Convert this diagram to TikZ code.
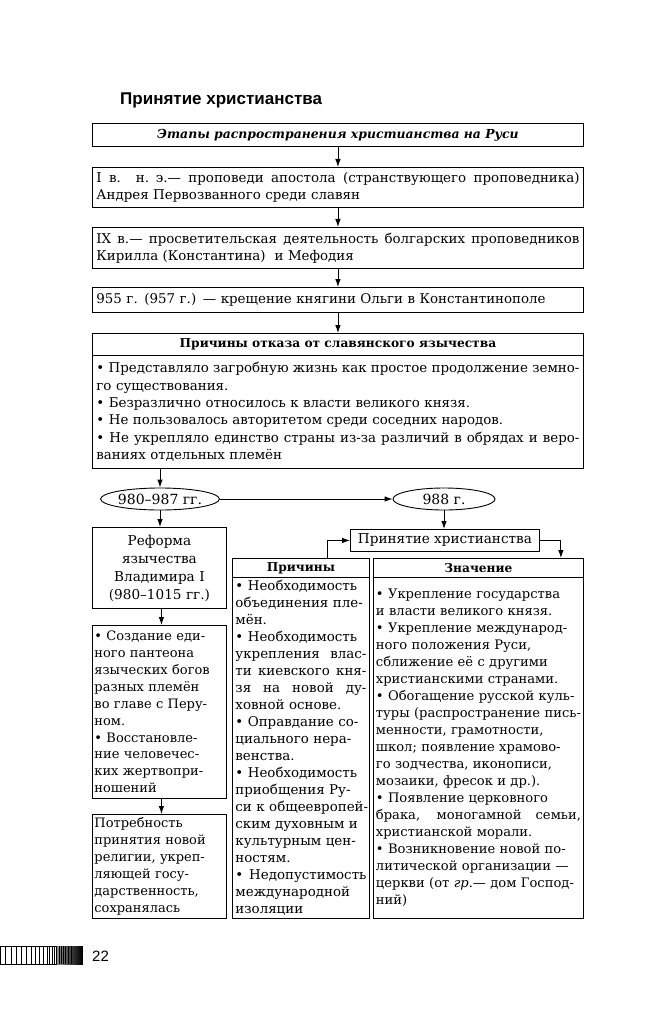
\documentclass[tikz,border=0pt]{standalone}
\usepackage{fontspec}
\setmainfont{DejaVu Serif}
\newfontfamily\titlefont{Liberation Sans}
\usetikzlibrary{arrows.meta,shapes.geometric,calc}
\newcommand\lnJ[1]{\makebox[\linewidth][s]{\spaceskip=0.318em plus 1fil minus 0.1em\relax #1}\par}
\newcommand\lnL[1]{\makebox[\linewidth][l]{#1}\par}
\newcommand\lnC[1]{\makebox[\linewidth][c]{#1}\par}
\tikzset{
  boxstyle/.style={draw, line width=0.9pt, anchor=north west, inner xsep=4pt, inner ysep=0pt,
    align=left, font=\fontsize{13.4}{17.3}\selectfont},
  colstyle/.style={boxstyle, inner xsep=3pt, font=\fontsize{13.4}{17}\selectfont},
  zstyle/.style={boxstyle, inner xsep=2.5pt, font=\fontsize{13.1}{17}\selectfont},
  leftstyle/.style={boxstyle, inner xsep=2pt, font=\fontsize{13}{16.9}\selectfont},
  hdrstyle/.style={draw, line width=0.9pt, anchor=north west, inner sep=0pt,
    font=\bfseries\fontsize{12.2}{15}\selectfont},
  ellstyle/.style={draw, ellipse, line width=0.9pt, inner sep=0pt, minimum height=22pt,
    font=\fontsize{14}{16}\selectfont},
  arr/.style={line width=0.9pt, -{Latex[length=8pt,width=5.5pt]}},
}
\begin{document}
\begin{tikzpicture}[x=1pt,y=-1pt]
\useasboundingbox (0,0) rectangle (660,1024);
\fill[white] (0,0) rectangle (660,1024);

\node[anchor=base west, inner sep=0pt, font=\titlefont\bfseries\fontsize{17}{20}\selectfont] (T) at (120,105) {Принятие христианства};

\node[hdrstyle, minimum width=491pt, minimum height=23pt, font=\bfseries\itshape\fontsize{12.4}{15}\selectfont] (A) at (92,123) {Этапы распространения христианства на Руси};

\node[boxstyle, text width=483pt, minimum height=40pt] (B) at (92,167) {%
\lnJ{I в.\ \ н. э.— проповеди апостола (странствующего проповедника)}
\lnL{Андрея Первозванного среди славян}};

\node[boxstyle, text width=483pt, minimum height=41pt] (C) at (92,227) {%
\lnJ{IX в.— просветительская деятельность болгарских проповедников}
\lnL{Кирилла (Константина)\ \ и Мефодия}};

\node[boxstyle, text width=483pt, minimum height=25pt] (D) at (92,287) {%
\lnL{955 г. (957 г.) — крещение княгини Ольги в Константинополе}};

\node[hdrstyle, minimum width=491pt, minimum height=22pt] (Eh) at (92,333) {Причины отказа от славянского язычества};

\node[boxstyle, text width=483pt, minimum height=113pt] (Eb) at (92,355) {%
\lnJ{• Представляло загробную жизнь как простое продолжение земно-}
\lnL{го существования.}
\lnL{• Безразлично относилось к власти великого князя.}
\lnL{• Не пользовалось авторитетом среди соседних народов.}
\lnJ{• Не укрепляло единство страны из-за различий в обрядах и веро-}
\lnL{ваниях отдельных племён}};

\node[ellstyle, minimum width=104pt] (L) at (160,499) {980–987 гг.};
\node[ellstyle, minimum width=102pt] (R) at (444,499) {988 г.};

\node[boxstyle, text width=126pt, minimum height=81pt, font=\fontsize{13.6}{18}\selectfont] (Ref) at (92,527) {%
\lnC{Реформа}
\lnC{язычества}
\lnC{Владимира I}
\lnC{(980–1015 гг.)}};

\node[leftstyle, text width=130pt, minimum height=173pt] (Soz) at (92,625) {%
\lnL{• Создание еди-}
\lnL{ного пантеона}
\lnL{языческих богов}
\lnL{разных племён}
\lnL{во главе с Перу-}
\lnL{ном.}
\lnL{• Восстановле-}
\lnL{ние человечес-}
\lnL{ких жертвопри-}
\lnL{ношений}};

\node[leftstyle, text width=130pt, minimum height=104pt] (Pot) at (92,814) {%
\lnL{Потребность}
\lnL{принятия новой}
\lnL{религии, укреп-}
\lnL{ляющей госу-}
\lnL{дарственность,}
\lnL{сохранялась}};

\node[hdrstyle, minimum width=189pt, minimum height=22pt, font=\fontsize{13.6}{15}\selectfont] (P) at (350,529) {Принятие христианства};

\node[hdrstyle, minimum width=137pt, minimum height=19pt] (Ph) at (232,558) {Причины};
\node[colstyle, text width=131pt, minimum height=341pt] (Pb) at (232,577) {%
\lnL{• Необходимость}
\lnL{объединения пле-}
\lnL{мён.}
\lnL{• Необходимость}
\lnJ{укрепления влас-}
\lnJ{ти киевского кня-}
\lnJ{зя на новой ду-}
\lnL{ховной основе.}
\lnL{• Оправдание со-}
\lnL{циального нера-}
\lnL{венства.}
\lnL{• Необходимость}
\lnL{приобщения Ру-}
\lnL{си к общеевропей-}
\lnL{ским духовным и}
\lnL{культурным цен-}
\lnL{ностям.}
\lnJ{• Недопустимость}
\lnL{международной}
\lnL{изоляции}};

\node[hdrstyle, minimum width=210pt, minimum height=19pt] (Zh) at (373,558) {Значение};
\node[zstyle, text width=205pt, minimum height=341pt] (Zb) at (373,577) {%
\lnL{• Укрепление государства}
\lnL{и власти великого князя.}
\lnL{• Укрепление международ-}
\lnL{ного положения Руси,}
\lnL{сближение её с другими}
\lnL{христианскими странами.}
\lnL{• Обогащение русской куль-}
\lnJ{туры (распространение пись-}
\lnL{менности, грамотности,}
\lnL{школ; появление храмово-}
\lnL{го зодчества, иконописи,}
\lnL{мозаики, фресок и др.).}
\lnL{• Появление церковного}
\lnJ{брака, моногамной семьи,}
\lnL{христианской морали.}
\lnL{• Возникновение новой по-}
\lnL{литической организации —}
\lnL{церкви (от \textit{гр.}— дом Господ-}
\lnL{ний)}};

% connectors
\draw[arr] (A.south) -- (B.north);
\draw[arr] (B.south) -- (C.north);
\draw[arr] (C.south) -- (D.north);
\draw[arr] (D.south) -- (Eh.north);
\draw[arr] (L.north |- Eb.south) -- (L.north);
\draw[arr] (L.east) -- (R.west);
\draw[arr] (L.south) -- (L.south |- Ref.north);
\draw[arr] (R.south) -- (R.south |- P.north);
\draw[arr] ([xshift=2pt]Ref.south) -- ([xshift=2pt]Soz.north);
\draw[arr] ([xshift=2pt]Soz.south) -- ([xshift=2pt]Pot.north);
\draw[arr] ([xshift=26pt]Ph.north) |- (P.west);
\draw[arr] (P.east) -| ([xshift=-23pt]Zh.north east);

% page strip and number
\draw[line width=0.6pt] (0,946) rectangle (82,964);
\foreach \x in {5.7,11,16.7,21,26,31,35,39.5,43.5,47,49.5,52,54,56}
  \draw[line width=0.6pt] (\x,946) -- (\x,964);
\shade[left color=black!45, right color=black] (57,946) rectangle (82,964);
\foreach \x in {59,61,63,65.5,68,71}
  \draw[line width=0.5pt, black] (\x,946) -- (\x,964);
\node[anchor=base west, inner sep=0pt, font=\titlefont\fontsize{15}{17}\selectfont] (pg) at (92,961) {22};
\end{tikzpicture}
\end{document}
